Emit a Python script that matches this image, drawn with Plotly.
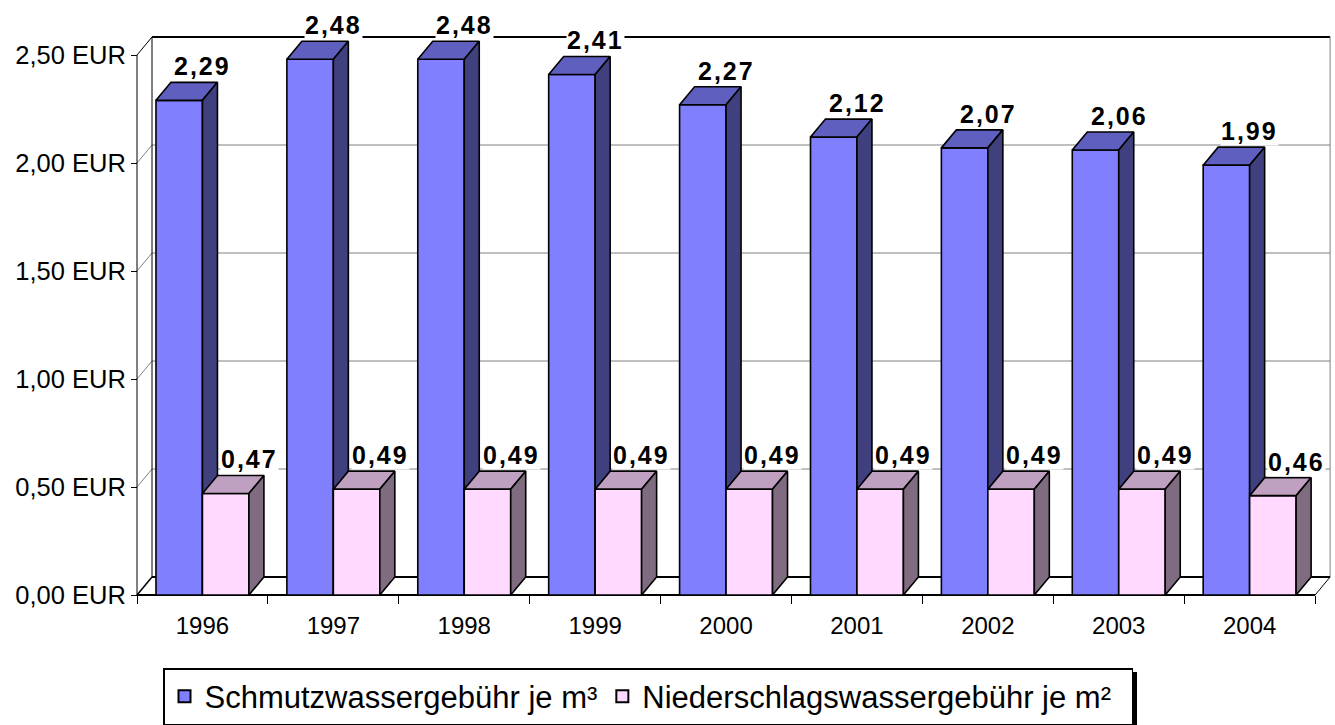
import plotly.graph_objects as go

# ---------------- data ----------------
years = ["1996", "1997", "1998", "1999", "2000", "2001", "2002", "2003", "2004"]
schmutz = [2.29, 2.48, 2.48, 2.41, 2.27, 2.12, 2.07, 2.06, 1.99]
nieder = [0.47, 0.49, 0.49, 0.49, 0.49, 0.49, 0.49, 0.49, 0.46]
series_names = ["Schmutzwassergebühr je m³", "Niederschlagswassergebühr je m²\u2002"]
y_ticks = [0, 0.5, 1.0, 1.5, 2.0, 2.5]
y_tick_text = ["0,00 EUR", "0,50 EUR", "1,00 EUR", "1,50 EUR", "2,00 EUR", "2,50 EUR"]

# ---------------- geometry / style ----------------
W, H = 1335, 725
L, R, T, B = 134, 1333, 35, 598          # plot area in pixels
KX, KY = 130.9, 216.0                     # pixels per category / per EUR
PAD_X, PAD_Y = 3 / KX, 3 / KY
DX, DY = 15 / KX, 18 / KY                 # 3-D depth offset
BW = 0.355                                # bar width (category units)
FONT = "Arial, Liberation Sans, sans-serif"

colors = {
    "blue": dict(front="#8080FF", top="#5F5FC0", side="#40407F"),
    "pink": dict(front="#FFD9FF", top="#C0A0C0", side="#806C80"),
}

n = len(years)
x_lo, x_hi = -0.5 - PAD_X, -0.5 + (R - 137) / KX
y_lo, y_hi = -PAD_Y, (595 - T) / KY

fig = go.Figure()


def add_bars(values, offset, col):
    fx, fy, tx, ty, sx, sy = [], [], [], [], [], []
    for i, v in enumerate(values):
        x0 = i + offset
        x1 = x0 + BW
        fx += [x0, x1, x1, x0, x0, None]
        fy += [0, 0, v, v, 0, None]
        tx += [x0, x1, x1 + DX, x0 + DX, x0, None]
        ty += [v, v, v + DY, v + DY, v, None]
        sx += [x1, x1 + DX, x1 + DX, x1, x1, None]
        sy += [0, DY, v + DY, v, 0, None]
    for xs, ys, c in ((fx, fy, col["front"]), (tx, ty, col["top"]), (sx, sy, col["side"])):
        fig.add_trace(go.Scatter(
            x=xs, y=ys, mode="lines", fill="toself", fillcolor=c,
            line=dict(color="black", width=1.6), showlegend=False, hoverinfo="skip"))


add_bars(schmutz, -BW, colors["blue"])
add_bars(nieder, 0.0, colors["pink"])

# legend entries
for name, col in zip(series_names, (colors["blue"], colors["pink"])):
    fig.add_trace(go.Bar(x=[None], y=[None], name=name,
                         marker=dict(color=col["front"], line=dict(color="black", width=1.5))))

# ---------------- walls / floor ----------------
shapes = []
gx0, gx1 = -0.5 + DX, n - 0.5 + DX
for v in y_ticks[1:-1]:
    shapes.append(dict(type="line", x0=gx0, x1=gx1, y0=v + DY, y1=v + DY,
                       line=dict(color="#808080", width=1), layer="below"))
    shapes.append(dict(type="line", x0=-0.5, x1=gx0, y0=v, y1=v + DY,
                       line=dict(color="#808080", width=1), layer="below"))
top = y_ticks[-1]
shapes.append(dict(type="line", x0=gx0, x1=gx1, y0=top + DY, y1=top + DY,
                   line=dict(color="black", width=2), layer="below"))
shapes.append(dict(type="line", x0=gx1, x1=gx1, y0=DY, y1=top + DY,
                   line=dict(color="#808080", width=1), layer="below"))
shapes.append(dict(type="line", x0=-0.5, x1=-0.5, y0=0, y1=top,
                   line=dict(color="black", width=1), layer="below"))
shapes.append(dict(type="line", x0=gx0, x1=gx0, y0=DY, y1=top + DY,
                   line=dict(color="black", width=1), layer="below"))
shapes.append(dict(type="line", x0=-0.5, x1=gx0, y0=top, y1=top + DY,
                   line=dict(color="black", width=1), layer="below"))
shapes.append(dict(type="line", x0=-0.5, x1=n - 0.5, y0=0, y1=0,
                   line=dict(color="black", width=2), layer="below"))
shapes.append(dict(type="line", x0=gx0, x1=gx1, y0=DY, y1=DY,
                   line=dict(color="black", width=2), layer="below"))
shapes.append(dict(type="line", x0=-0.5, x1=gx0, y0=0, y1=DY,
                   line=dict(color="black", width=1.5), layer="below"))
shapes.append(dict(type="line", x0=n - 0.5, x1=gx1, y0=0, y1=DY,
                   line=dict(color="black", width=1), layer="below"))
pw, ph = R - L, B - T


def px_x(p):
    return (p - L) / pw


def px_y(p):
    return (B - p) / ph


# legend drop shadow
shapes.append(dict(type="rect", xref="paper", yref="paper",
                   x0=px_x(167), x1=px_x(1137), y0=px_y(727), y1=px_y(672),
                   fillcolor="black", line=dict(width=0), layer="below"))

# ---------------- value labels ----------------
annotations = []
for vals, offset in ((schmutz, -BW), (nieder, 0.0)):
    for i, v in enumerate(vals):
        txt = f"{v:.2f}".replace(".", ",")
        annotations.append(dict(
            x=i + offset + BW / 2 + 0.18, y=v + DY, xref="x", yref="y",
            text=f"<span style='letter-spacing:2px'><b>{txt}</b></span>",
            showarrow=False, yanchor="middle", yshift=16,
            font=dict(family=FONT, size=25, color="black"),
            bgcolor="white", borderpad=0))

pos_y0 = 3 / ph
fig.update_layout(
    width=W, height=H,
    margin=dict(l=L, r=W - R, t=T, b=H - B, autoexpand=False),
    paper_bgcolor="white", plot_bgcolor="white",
    font=dict(family=FONT, size=24, color="black"),
    shapes=shapes, annotations=annotations,
    showlegend=True,
    legend=dict(orientation="h", x=px_x(163), y=px_y(668), xanchor="left", yanchor="top",
                bgcolor="white", bordercolor="black", borderwidth=1.5,
                font=dict(family=FONT, size=31, color="black"),
                itemsizing="constant", tracegroupgap=0),
    xaxis=dict(range=[x_lo, x_hi], showgrid=False, zeroline=False, showline=False,
               tickvals=[i - 0.5 for i in range(n + 1)], ticktext=[""] * (n + 1),
               ticks="outside", ticklen=8, tickcolor="black", tickwidth=1,
               anchor="free", position=pos_y0, automargin=False),
    xaxis2=dict(range=[x_lo, x_hi], overlaying="x", showgrid=False, zeroline=False,
                showline=False, tickvals=list(range(n)), ticktext=years, ticks="",
                anchor="free", position=pos_y0, side="bottom", ticklabelstandoff=14,
                automargin=False,
                tickfont=dict(family=FONT, size=24, color="black")),
    yaxis=dict(range=[y_lo, y_hi], showgrid=False, zeroline=False, showline=False,
               tickvals=y_ticks, ticktext=y_tick_text, ticks="outside", ticklen=6,
               tickcolor="black", anchor="free", position=3 / pw, automargin=False,
               tickfont=dict(family=FONT, size=25.5, color="black")),
)
fig.add_trace(go.Scatter(x=[None], y=[None], xaxis="x2", showlegend=False, hoverinfo="skip"))

fig.write_html("out.html", config={"displayModeBar": False},
               post_script="document.body.style.margin='0';document.body.style.overflow='hidden';")
